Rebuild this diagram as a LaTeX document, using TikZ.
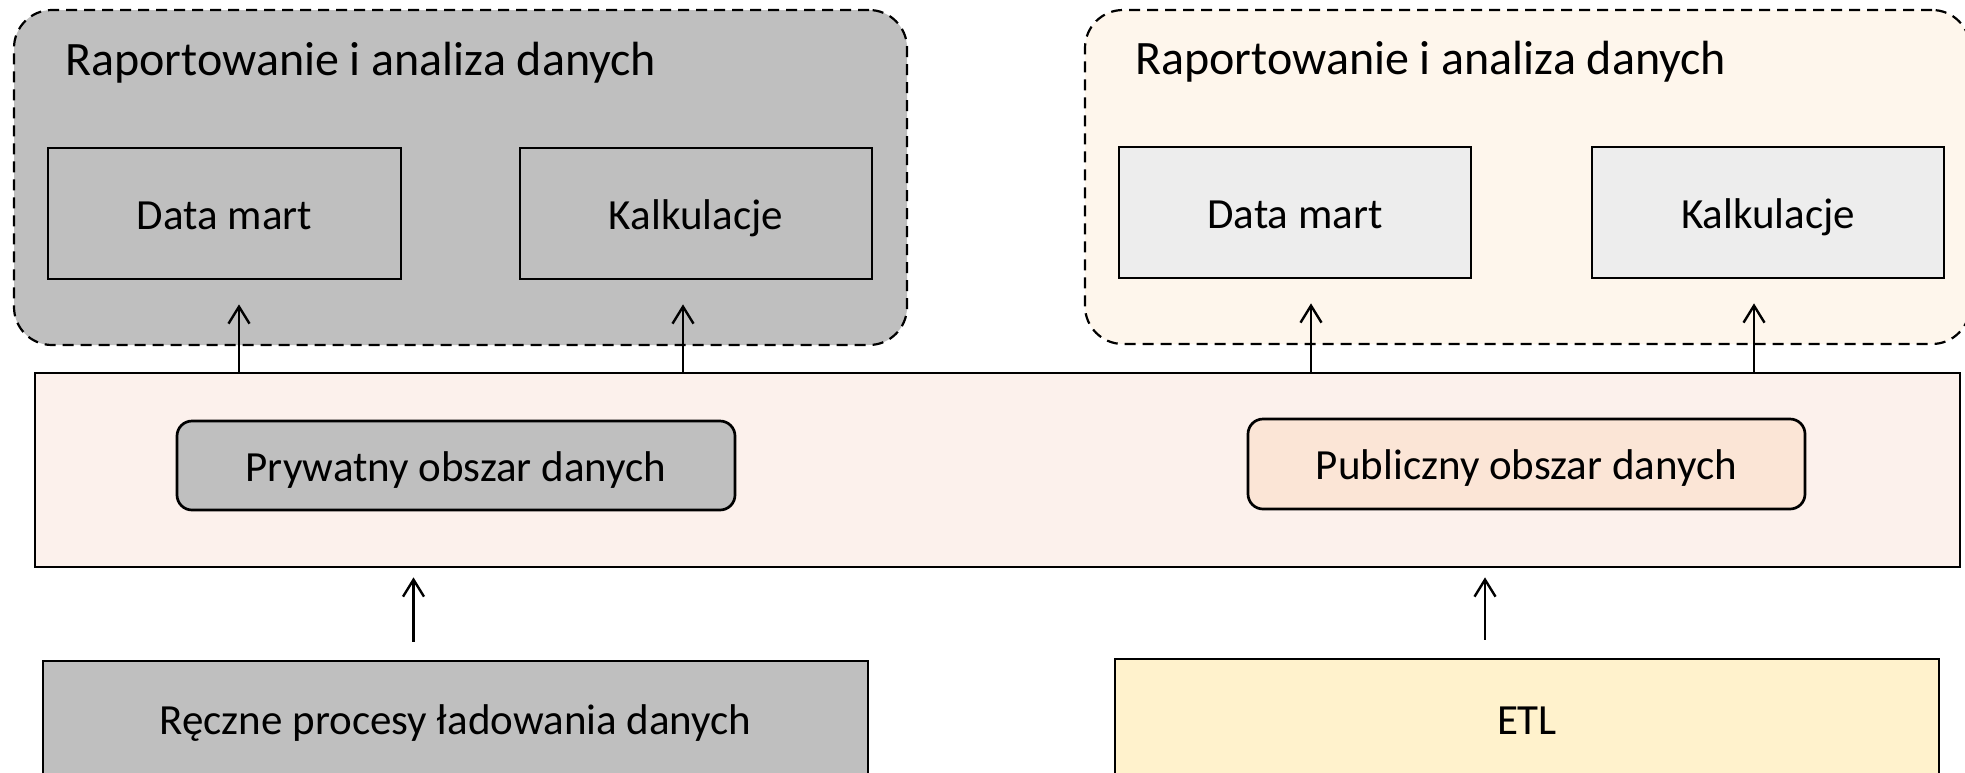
\documentclass[tikz,border=0pt]{standalone}
\usepackage{fontspec}
\setmainfont{Carlito}
\usetikzlibrary{arrows.meta}
\definecolor{grayfill}{HTML}{BFBFBF}
\definecolor{creamfill}{HTML}{FEF6EC}
\definecolor{lightgray}{HTML}{EDEDED}
\definecolor{bandfill}{HTML}{FCF1EC}
\definecolor{peach}{HTML}{FBE5D6}
\definecolor{etlfill}{HTML}{FFF2CC}
\tikzset{
  grp/.style={draw=black, dash pattern=on 11pt off 7pt, line width=2.2pt, rounded corners=38pt, inner sep=0pt},
  boxstyle/.style={draw=black, line width=2.7pt, inner sep=0pt, font=\fontsize{43}{52}\selectfont, text height=40pt, text depth=8.8pt},
  roundbox/.style={boxstyle, rounded corners=15pt},
  titlestyle/.style={inner sep=0pt, anchor=base west, font=\fontsize{48}{58}\selectfont},
  arr/.style={draw=black, line width=2.4pt, -{Straight Barb[length=17pt,width=21pt,line width=2.4pt]}}
}
\begin{document}
\begin{tikzpicture}[x=1pt,y=-1pt]
\useasboundingbox (0,0) rectangle (1965,772);
\clip (0,0) rectangle (1965,772);
% groups
\node[grp, fill=grayfill, minimum width=893pt, minimum height=335pt] (leftgrp) at (460.5,177.5) {};
\node[grp, fill=creamfill, minimum width=885pt, minimum height=334pt] (rightgrp) at (1527.5,177) {};
\node[titlestyle] (title1) at (65,75) {Raportowanie i analiza danych};
\node[titlestyle] (title2) at (1135,74) {Raportowanie i analiza danych};
% top boxes
\node[boxstyle, fill=grayfill, minimum width=353pt, minimum height=131pt] (dm1) at (224.5,213.5) {Data mart};
\node[boxstyle, fill=grayfill, minimum width=352pt, minimum height=131pt] (kal1) at (696,213.5) {Kalkulacje};
\node[boxstyle, fill=lightgray, minimum width=352pt, minimum height=131pt] (dm2) at (1295,212.5) {Data mart};
\node[boxstyle, fill=lightgray, minimum width=352pt, minimum height=131pt] (kal2) at (1768,212.5) {Kalkulacje};
% band
\node[draw=black, line width=2.7pt, fill=bandfill, minimum width=1925pt, minimum height=194pt, inner sep=0pt] (band) at (997.5,470) {};
\node[roundbox, fill=grayfill, minimum width=558pt, minimum height=89pt] (pryw) at (456,465.5) {Prywatny obszar danych};
\node[roundbox, fill=peach, minimum width=557pt, minimum height=90pt] (publ) at (1526.5,464) {Publiczny obszar danych};
% bottom boxes
\node[boxstyle, fill=grayfill, minimum width=825pt, minimum height=115pt] (reczne) at (455.5,718.5) {Ręczne procesy ładowania danych};
\node[boxstyle, fill=etlfill, minimum width=824pt, minimum height=119pt] (etl) at (1527,718.5) {ETL};
% arrows up from band
\draw[arr, shorten >=24pt] ([xshift=14.5pt]dm1.south |- band.north) -- ([xshift=14.5pt]dm1.south);
\draw[arr, shorten >=24pt] ([xshift=-13pt]kal1.south |- band.north) -- ([xshift=-13pt]kal1.south);
\draw[arr, shorten >=24pt] ([xshift=16pt]dm2.south |- band.north) -- ([xshift=16pt]dm2.south);
\draw[arr, shorten >=24pt] ([xshift=-14pt]kal2.south |- band.north) -- ([xshift=-14pt]kal2.south);
% arrows from bottom
\draw[arr, shorten <=18pt, shorten >=9pt] ([xshift=-42pt]reczne.north) -- ([xshift=-42pt]reczne.north |- band.south);
\draw[arr, shorten <=18pt, shorten >=9pt] ([xshift=-42pt]etl.north) -- ([xshift=-42pt]etl.north |- band.south);
\end{tikzpicture}
\end{document}
